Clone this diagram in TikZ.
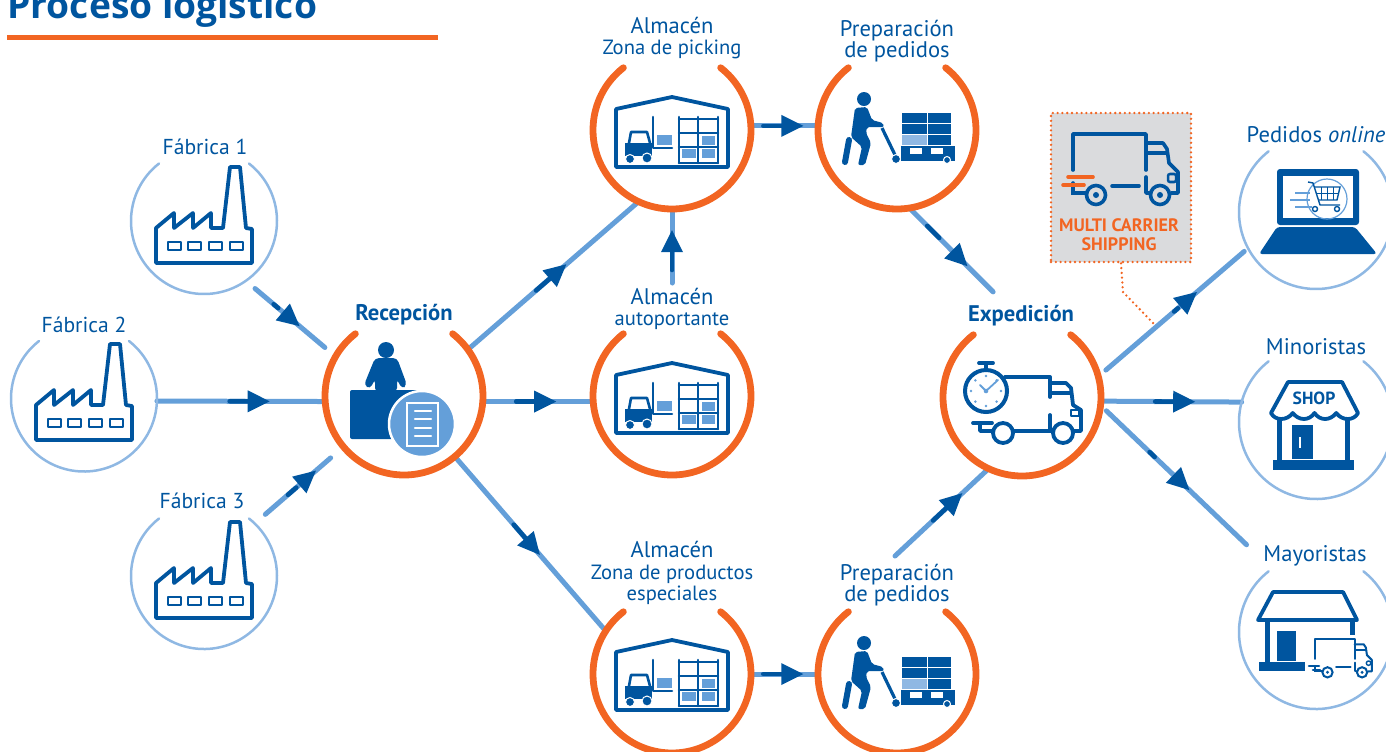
\documentclass[tikz,border=0pt]{standalone}
\usepackage{fontspec}
\setmainfont{PT Sans}
\newfontfamily\titlefont{Open Sans}
\usetikzlibrary{calc,arrows.meta,decorations.markings}

\definecolor{bluedark}{HTML}{00559F}
\definecolor{bluemid}{HTML}{649FD9}
\definecolor{ringblue}{HTML}{8FB8E3}
\definecolor{orangeline}{HTML}{F26522}
\definecolor{greybox}{HTML}{DADBDD}

\newcommand{\sublabel}{\fontsize{10.3}{10.6}\selectfont}

\tikzset{
    hub/.style={circle, minimum size=79pt, inner sep=0pt, outer sep=0pt},
    site/.style={circle, minimum size=73pt, inner sep=0pt, outer sep=0pt},
    bigsite/.style={circle, minimum size=77pt, inner sep=0pt, outer sep=0pt},
    ringline/.style={draw=orangeline, line width=3.4pt, line cap=round},
    thinring/.style={draw=ringblue, line width=1.25pt, line cap=round},
    caption/.style={text=bluedark, align=center, inner sep=0pt, font=\fontsize{11.3}{10.6}\selectfont},
    captionbold/.style={caption, font=\fontsize{11.3}{10.6}\selectfont\bfseries},
    dotline/.style={draw=orangeline, line width=1.3pt, dash pattern=on 0pt off 2.4pt, line cap=round},
    link/.style={draw=bluemid, line width=2.5pt, line cap=round},
    flow/.style={link, postaction={decorate, decoration={markings, mark=at position #1 with {
        \draw[bluedark, line width=2.3pt, line cap=round] (-40,0) -- (-20,0);
        \fill[bluedark] (0,0) -- (-22,-11) -- (-22,11) -- cycle;}}}},
    iconline/.style={draw=bluedark, line width=1.9pt, line join=round, line cap=round},
    thinline/.style={draw=bluedark, line width=1.3pt, line join=round, line cap=round},
    pics/factoryicon/.style={code={
        \draw[iconline] (-48,6) -- (-30,-9) -- (-30,6) -- (-11,-9) -- (-11,6) -- (7,-9) -- (7,6) -- (19,6) -- (26,-55) -- (36,-55) -- (42,6) -- (48,7) -- (48,41) -- (-48,41) -- cycle;
        \foreach \wx in {-36,-16,5,26} \draw[thinline] (\wx,20) rectangle ++(13,8);
    }},
    pics/storeicon/.style={code={
        \draw[iconline] (-56,-16) -- (0,-28) -- (56,-16) -- (56,42) -- (-56,42) -- cycle;
        \foreach \rx in {7,26,46} \draw[thinline] (\rx,-8) -- (\rx,38);
        \foreach \ry in {-6,8,22,38} \draw[thinline] (7,\ry) -- (46,\ry);
        \fill[bluemid] (30,11) rectangle (43,20);
        \fill[bluemid] (10,24) rectangle (24,33);
        \fill[bluemid] (30,24) rectangle (43,33);
        \draw[thinline] (-19,-8) -- (-19,23) -- (0,23); % mast
        \fill[bluemid] (-15,10) rectangle (0,20);
        \draw[thinline] (-43,18) -- (-41,7) -- (-25,7) -- (-22,18);
        \fill[bluedark] (-47,18) rectangle (-20,31);
        \filldraw[fill=bluedark, draw=white, line width=.5pt] (-42,34) circle (4.5);
        \filldraw[fill=bluedark, draw=white, line width=.5pt] (-25,33) circle (5);
    }},
    pics/pickericon/.style={code={
        \fill[bluedark] (-33,-26) circle (7);
        \fill[bluedark, rounded corners=1pt] (-42,-17) -- (-30,-18) -- (-25,-5) -- (-14,-2) -- (-13,2) -- (-30,2) -- (-31,8) -- (-26,18) -- (-32,40) -- (-39,40) -- (-35,22) -- (-46,12) -- cycle;
        \draw[bluedark, line width=3pt, line cap=round] (-48,15) -- (-52,37);
        \draw[bluedark, line width=1.6pt] (-15,3) -- (-1,32);
        \foreach \ry/\rh in {-12/10,-1/10,10/10} {
            \fill[bluedark] (5,\ry) rectangle (29.5,\ry+\rh);
            \fill[bluedark] (30.5,\ry) rectangle (54,\ry+\rh);
        }
        \fill[ringblue] (5,10) rectangle (29.5,20);
        \fill[bluedark] (4,21) rectangle (58,36);
        \fill[white] (13,23) rectangle (25,29);
        \fill[white] (34,23) rectangle (46,29);
        \filldraw[fill=bluedark, draw=white, line width=.5pt] (-1,34) circle (4.5);
        \filldraw[fill=bluedark, draw=white, line width=.5pt] (50,35) circle (3.5);
    }},
    pics/deskicon/.style={code={
        \fill[bluedark] (-18,-47) circle (8);
        \fill[bluedark, rounded corners=2pt] (-29,-39) -- (-7,-39) -- (3,-12) -- (-2,-8) -- (-7,-18) -- (-7,-5) -- (-29,-5) -- (-29,-18) -- (-34,-8) -- (-40,-12) -- cycle;
        \fill[bluedark, rounded corners=1pt] (-54,-7) rectangle (16,42);
        \filldraw[fill=bluemid, draw=white, line width=1.25pt] (18,27) circle (33);
        \draw[white, line width=1pt] (3,6) rectangle (34,49);
        \foreach \ly in {14,22,31,39} \draw[white, line width=1.1pt, line cap=round] (11,\ly) -- (27,\ly);
    }},
    pics/truckicon/.style={code={
        \draw[line width=#1, draw=bluedark, line cap=round, line join=round] (-48,-17) -- (-48,-53) -- (25,-53) -- (25,-17);
        \draw[line width=#1, draw=bluedark, line cap=round, line join=round] (25,-44) -- (42,-44) -- (46,-38) -- (48,-24) -- (57,-15) -- (57,6) -- (50,6);
        \draw[line width=#1, draw=bluedark, line cap=round] (27,-34) -- (46,-34);
        \draw[line width=#1, draw=bluedark, line cap=round, line join=round] (25,-10) -- (25,6) -- (28,6);
        \draw[line width=#1, draw=bluedark, line cap=round] (-9,-1) -- (18,-1);
        \draw[line width=#1, draw=bluedark, line cap=round] (-48,-4) -- (-48,6) -- (-35,6);
        \draw[line width=.7*#1, draw=bluedark, rounded corners=1pt] (47,-13) rectangle (55,-5);
        \foreach \wx in {-25,39} {
            \draw[line width=#1, draw=bluedark] (\wx,8) circle (9.5);
            \fill[bluedark] (\wx,8) circle (3);
        }
    }},
    pics/clocktruckicon/.style={code={
        \draw[iconline] (-17,-20) -- (28,-20) -- (28,0);
        \draw[iconline] (28,-14) -- (44,-14) -- (49,-9) -- (51,8) -- (59,13) -- (59,34) -- (52,34);
        \draw[iconline] (30,-4) -- (49,-4);
        \draw[iconline] (28,18) -- (28,34) -- (30,34);
        \draw[iconline] (-9,34) -- (30,34);
        \draw[iconline] (-49,26) -- (-30,26);
        \draw[iconline] (-42,27) -- (-42,34) -- (-29,34);
        \draw[thinline] (49,13) rectangle (57,19);
        \foreach \wx in {-19,41} \draw[iconline] (\wx,36) circle (10);
        \filldraw[fill=white, draw=bluedark, line width=2pt] (-36,-6) circle (21);
        \draw[iconline] (-36,-28) -- (-36,-33);
        \draw[iconline] (-43,-34) -- (-29,-34);
        \foreach \da in {0,45,...,315} \fill[bluemid] ($(-36,-6)+({15*cos(\da)},{15*sin(\da)})$) circle (1.4);
        \draw[bluemid, line width=.9pt, line cap=round] (-42,-12) -- (-36,-6) -- (-24,-17);
        \fill[bluemid] (-36,-6) circle (2.3);
    }},
    pics/laptopicon/.style={code={
        \fill[bluedark, rounded corners=1.5pt] (-35,-41) rectangle (47,15);
        \fill[white] (-29,-34) rectangle (41,8);
        \fill[bluedark, rounded corners=1.5pt] (-35,17) -- (43,17) -- (65,44) -- (-53,44) -- cycle;
        \draw[bluemid, line width=.6pt] (15,-11) circle (20);
        \draw[bluemid, line width=.7pt] (-17,-17) -- (-2,-17) (-22,-10) -- (-2,-10) (-17,-3) -- (0,-3);
        \draw[bluedark, line width=.7pt, line join=round] (-4,-28) -- (1,-27) -- (8,-5) -- (28,-5);
        \draw[bluedark, line width=.7pt] (3,-23) -- (28,-23) -- (25,-10) -- (7,-10);
        \foreach \gx in {9,15,21} \draw[bluedark, line width=.5pt] (\gx,-23) -- (\gx,-10);
        \draw[bluedark, line width=.5pt] (5,-16.5) -- (26.5,-16.5);
        \foreach \gx in {3,25} \draw[bluedark, line width=.7pt] (\gx,-1) circle (2.5);
    }},
    pics/shopicon/.style={code={
        \draw[iconline] (-24,-45) -- (30,-45) -- (46,-14) .. controls (42,-6) and (30,-6) .. (24.25,-14) .. controls (18,-6) and (8,-6) .. (2.5,-14) .. controls (-3,-6) and (-13,-6) .. (-19.25,-14) .. controls (-25,-6) and (-37,-6) .. (-41,-14) -- cycle;
        \fill[bluedark] (-35,-8) rectangle (-30,33);
        \fill[bluedark] (32.5,-8) rectangle (37.5,33);
        \fill[bluedark] (-20,-2) rectangle (1,32);
        \fill[white] (-13.5,10) rectangle (-11.5,21);
        \fill[bluedark] (-39,33) rectangle (42,43);
        \node[captionbold, font=\fontsize{8.8}{8.8}\selectfont\bfseries] (shoptxt) at (2,-29) {SHOP};
    }},
    pics/wholesaleicon/.style={code={
        \draw[iconline] (-39,-44) -- (31,-44) -- (45,-16) -- (-54,-16) -- cycle;
        \fill[bluedark] (-47.5,-16) rectangle (-42.5,27);
        \fill[bluedark] (37.5,-15) rectangle (42.5,-1);
        \fill[bluedark] (-35,-5) rectangle (-16,25);
        \fill[bluedark] (-53,26) rectangle (-7,35);
        \pic[scale=.54] at (29,32) {truckicon=1pt};
        \draw[thinline] (-3,30) -- (7,30) (1,34) -- (8,34);
    }},
}

\begin{document}
\begin{tikzpicture}[x=0.5pt, y=-0.5pt]
    \useasboundingbox (0,0) rectangle (1386,751);

    % sites and hubs
    \node[site] (fab1) at (204,221) {};
    \node[site] (fab2) at (84,398.5) {};
    \node[site] (fab3) at (204,576) {};
    \node[hub] (rec) at (404,396) {};
    \node[hub] (pick) at (672,130) {};
    \node[hub] (auto) at (672,396) {};
    \node[hub] (esp) at (672,674) {};
    \node[hub] (prep1) at (897,130) {};
    \node[hub] (prep2) at (897,674) {};
    \node[hub] (exp) at (1022,397) {};
    \node[bigsite] (online) at (1316,212) {};
    \node[bigsite] (min) at (1316,422) {};
    \node[bigsite] (may) at (1316,632) {};
    \coordinate (autoout) at (672,283);
    \coordinate (prep2out) at (895,556);

    \node[anchor=base west, inner sep=0pt, text=bluedark, font=\titlefont\fontsize{18.6}{18.6}\selectfont\bfseries] (title) at (7,18) {Proceso logístico};
    \coordinate (ruleend) at (438,37);
    \draw[orangeline, line width=2.5pt] (7,37) -- (ruleend);

    % connectors
    \draw[flow=.6, shorten <=6pt, shorten >=7pt] (fab1.-55) -- (rec.150);
    \draw[flow=.67] (fab2.-2.75) -- (rec.184.36);
    \draw[flow=.69, shorten <=7pt, shorten >=8.5pt] (fab3.46) -- (rec.220);
    \draw[flow=.577] (rec.36.6) -- (pick.245);
    \draw[flow=.665] (rec.-4.36) -- (auto.184.36);
    \draw[flow=.565] (rec.-50) -- (esp.147);
    \draw[flow=.716] (autoout) -- (pick.-90);
    \draw[flow=.78] (pick.3) -- (prep1.177);
    \draw[flow=.78] (esp.0) -- (prep2.180);
    \draw[flow=.53, shorten >=18.5pt] (prep1.-81) -- (exp.92);
    \draw[flow=.72] (prep2out) -- (exp.245.6);
    \draw[flow=.66, shorten <=5pt, shorten >=2.5pt] (exp.15) -- (online.208);
    \draw[flow=.67] (exp.-3.6) -- (min.165);
    \draw[flow=.52, shorten <=4pt, shorten >=17.5pt] (exp.-6) -- (may.125);

    \foreach \hubname in {rec,pick,auto,esp,prep1,prep2,exp}
        \draw[ringline] (\hubname.128) arc[start angle=128, delta angle=284, radius=39.5pt];
    \foreach \sitename in {fab1,fab2,fab3}
        \draw[thinring] (\sitename.128) arc[start angle=128, delta angle=284, radius=36.5pt];
    \foreach \sitename in {online,min,may}
        \draw[thinring] (\sitename.128) arc[start angle=128, delta angle=284, radius=38.5pt];

    % icons
    \pic at (204,222) {factoryicon};
    \pic at (84,399) {factoryicon};
    \pic at (204,577) {factoryicon};
    \pic at (404,397) {deskicon};
    \pic at (672,125) {storeicon};
    \pic at (672,391) {storeicon};
    \pic at (672,668) {storeicon};
    \pic at (897,125) {pickericon};
    \pic at (897,669) {pickericon};
    \pic at (1022,397) {clocktruckicon};
    \pic at (1312,210) {laptopicon};
    \pic at (1312,427) {shopicon};
    \pic at (1312,636) {wholesaleicon};

    % multi carrier box
    \node[fill=greybox, dotline, minimum width=70pt, minimum height=74.5pt, inner sep=0pt] (mcbox) at (1121,187.5) {};
    \pic at (1121,187) {truckicon=1.8pt};
    \draw[orangeline, line width=1.8pt, line cap=round] (1068,177) -- (1093,177) (1063,185) -- (1084,185);
    \node[caption, text=orangeline, font=\fontsize{9}{9.6}\selectfont\bfseries] (mclabel) at (1119,235) {MULTI CARRIER\\SHIPPING};
    \coordinate (mcjoin) at (1154,324);
    \draw[dotline] (mcbox.south) -- (1123,292) -- (mcjoin);

    % labels
    \node[caption, font=\fontsize{10.8}{10.6}\selectfont] (lblfab1) at (205,147) {Fábrica 1};
    \node[caption, font=\fontsize{10.8}{10.6}\selectfont] (lblfab2) at (84,325) {Fábrica 2};
    \node[caption, font=\fontsize{10.8}{10.6}\selectfont] (lblfab3) at (202,501) {Fábrica 3};
    \node[captionbold] (lblrec) at (404,315) {Recepción};
    \node[caption] (lblpick) at (672,38) {Almacén\\\sublabel Zona de picking};
    \node[caption] (lblprep1) at (897,41) {Preparación\\de pedidos};
    \node[caption] (lblauto) at (672,309) {Almacén\\\sublabel autoportante};
    \node[caption] (lblesp) at (672,573) {Almacén\\\sublabel Zona de productos\\\sublabel especiales};
    \node[caption] (lblprep2) at (897,585) {Preparación\\de pedidos};
    \node[captionbold] (lblexp) at (1021,316) {Expedición};
    \node[caption] (lblonline) at (1316,135) {Pedidos \textit{online}};
    \node[caption] (lblmin) at (1316,347) {Minoristas};
    \node[caption] (lblmay) at (1315,556) {Mayoristas};
\end{tikzpicture}
\end{document}
